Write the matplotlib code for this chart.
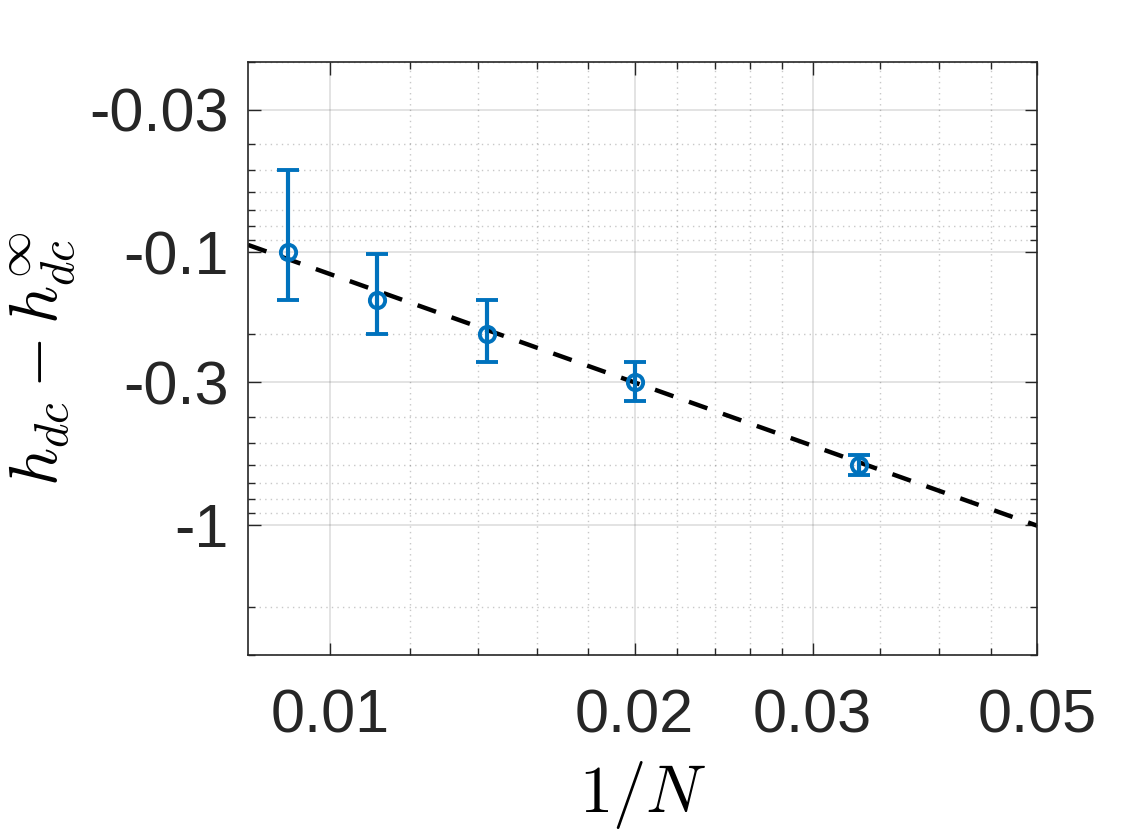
import numpy as np
import matplotlib
matplotlib.use('Agg')
import matplotlib.pyplot as plt
from matplotlib.ticker import FixedLocator, NullFormatter

# data
N = np.array([110, 90, 70, 50, 30])
h_diff = np.array([-0.10, -0.15, -0.20, -0.30, -0.60])      # h_dc - h_dc^inf
err_upper = np.array([-0.050, -0.101, -0.150, -0.252, -0.553])  # upper end of bar
err_lower = np.array([-0.150, -0.200, -0.252, -0.350, -0.655])  # lower end of bar

# power law fit |h| = amp * (1/N)^exp
fit_exp = 1.32
fit_amp = 0.30 / 0.02 ** fit_exp

x_ticks = [0.01, 0.02, 0.03, 0.05]
x_tick_labels = ['0.01', '0.02', '0.03', '0.05']
x_minor = [0.012, 0.014, 0.016, 0.018, 0.022, 0.024, 0.026, 0.028,
           0.035, 0.04, 0.045]
y_ticks = [0.03, 0.1, 0.3, 1.0]
y_tick_labels = ['-0.03', '-0.1', '-0.3', '-1']
y_minor = [0.02, 0.04, 0.05, 0.06, 0.07, 0.08, 0.09, 0.2, 0.4, 0.5, 0.6,
           0.7, 0.8, 0.9, 2.0, 3.0]

axis_grey = (0.15, 0.15, 0.15)
matlab_blue = '#0072BD'

plt.rcParams['font.family'] = ['Liberation Sans', 'DejaVu Sans']
plt.rcParams['mathtext.fontset'] = 'cm'

fig = plt.figure(figsize=(11.46, 8.34), dpi=100)
ax = fig.add_axes([0.2164, 0.2146, 0.9049 - 0.2164, 0.9257 - 0.2146])

x = 1.0 / N
mag = -h_diff
yerr = np.vstack([mag - (-err_upper), (-err_lower) - mag])

ax.set_xscale('log')
ax.set_yscale('log')

# fit line across the whole x range (clipped at the right edge)
xfit = np.array([0.00829, 0.052])
ax.plot(xfit, fit_amp * xfit ** fit_exp, color='k', lw=3.2,
        dashes=(4.4, 3.7), zorder=2)

ax.errorbar(x, mag, yerr=yerr, fmt='o', color=matlab_blue, mfc='none',
            mec=matlab_blue, ms=11, mew=2.8, elinewidth=3, capsize=8,
            capthick=3, zorder=3)

ax.set_xlim(0.00829, 0.05)
ax.set_ylim(0.02, 3.0)
ax.invert_yaxis()

ax.xaxis.set_major_locator(FixedLocator(x_ticks))
ax.set_xticklabels(x_tick_labels)
ax.xaxis.set_minor_locator(FixedLocator(x_minor))
ax.xaxis.set_minor_formatter(NullFormatter())

ax.yaxis.set_major_locator(FixedLocator(y_ticks))
ax.set_yticklabels(y_tick_labels)
ax.yaxis.set_minor_locator(FixedLocator(y_minor))
ax.yaxis.set_minor_formatter(NullFormatter())

ax.grid(True, which='major', color=axis_grey, alpha=0.15, lw=1.2)
ax.grid(True, which='minor', color=axis_grey, alpha=0.25, lw=1.0,
        linestyle=(0, (1, 3)))
ax.set_axisbelow(True)

ax.tick_params(which='both', direction='in', top=True, right=True,
               colors=axis_grey, width=1.0)
ax.tick_params(which='major', length=9)
ax.tick_params(which='minor', length=5)
ax.tick_params(axis='x', which='major', labelsize=44, pad=24)
ax.tick_params(axis='y', which='major', labelsize=44, pad=14)
for s in ax.spines.values():
    s.set_color(axis_grey)
    s.set_linewidth(1.2)

ax.set_xlabel(r'$1/N$', fontsize=48, color='k', labelpad=10)
ax.set_ylabel(r'$h_{dc} - h_{dc}^{\infty}$', fontsize=48, color='k',
              labelpad=8)

fig.savefig('out.png', dpi=100)
